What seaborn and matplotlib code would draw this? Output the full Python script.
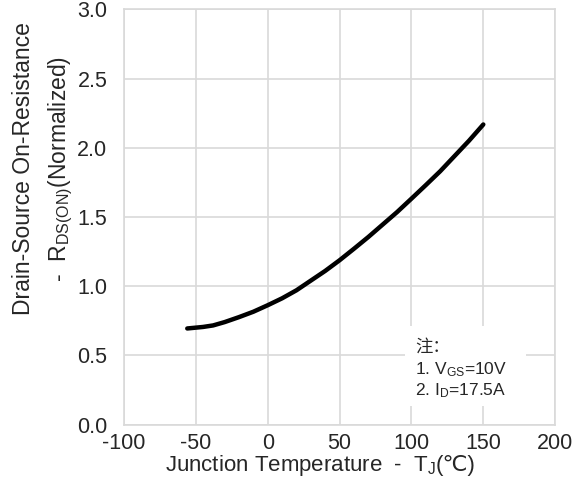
import numpy as np
import pandas as pd
import seaborn as sns
import matplotlib
matplotlib.use("Agg")
import matplotlib.pyplot as plt
from matplotlib.offsetbox import TextArea, HPacker, AnchoredOffsetbox

# curve
temp_c = [-56, -45, -38, -30, -20, -10, 0, 10, 20, 30, 40, 50, 60, 70, 80, 90,
          100, 110, 120, 130, 140, 150]
rds_norm = [0.694, 0.705, 0.716, 0.740, 0.776, 0.815, 0.862, 0.912, 0.970, 1.040,
            1.110, 1.187, 1.270, 1.355, 1.445, 1.535, 1.632, 1.730, 1.830, 1.940,
            2.050, 2.168]

x_ticks = [-100, -50, 0, 50, 100, 150, 200]
y_ticks = [0.0, 0.5, 1.0, 1.5, 2.0, 2.5, 3.0]

note_title = "注："
note_lines = ["1. $\\mathregular{V_{GS}}$=10V", "2. $\\mathregular{I_D}$=17.5A"]

sns.set_style("white")
plt.rcParams['font.family'] = ['Liberation Sans', 'DejaVu Sans']
plt.rcParams['mathtext.fontset'] = 'custom'
plt.rcParams['mathtext.rm'] = 'Liberation Sans'

df = pd.DataFrame({"T": temp_c, "R": rds_norm})

fig = plt.figure(figsize=(5.85, 4.91), dpi=100)
ax = fig.add_axes([0.212, 0.1354, 0.737, 0.8456])

sns.lineplot(data=df, x="T", y="R", ax=ax, color="black", linewidth=3.2)

ax.set_xlim(-100, 200)
ax.set_ylim(0, 3.0)
ax.set_xticks(x_ticks)
ax.set_yticks(y_ticks)
ax.set_xticklabels([str(t) for t in x_ticks], fontsize=15.5)
ax.set_yticklabels([f"{t:.1f}" for t in y_ticks], fontsize=15.5)
ax.tick_params(axis="x", length=0, pad=6)
ax.tick_params(axis="y", length=0, pad=12)
ax.grid(True, color="#d9d9d9", linewidth=1.2)
for s in ax.spines.values():
    s.set_color("#d9d9d9")
    s.set_linewidth(1.2)
ax.set_xlabel("")
ax.set_ylabel("")

# x label built from pieces so the ℃ sign can fall back to DejaVu
lab1 = TextArea("Junction Temperature  -  $\\mathregular{T_J}$",
                textprops=dict(fontsize=16, family="Liberation Sans"))
lab2 = TextArea("(℃)", textprops=dict(fontsize=16, family=["Liberation Sans", "DejaVu Sans"]))
xlab = HPacker(children=[lab1, lab2], align="baseline", pad=0, sep=0)
ax.add_artist(AnchoredOffsetbox(loc="upper center", child=xlab, pad=0, borderpad=0,
                                frameon=False, bbox_to_anchor=(0.455, -0.068),
                                bbox_transform=ax.transAxes))

fig.text(0.075, 0.656, "Drain-Source On-Resistance\n-  $\\mathregular{R_{DS(ON)}}$(Normalized)",
         rotation=90, ha="center", va="center", multialignment="center",
         fontsize=16.5, linespacing=1.6)

# note box (white patch over the grid)
ax.add_patch(plt.Rectangle((95.6, 0.134), 84.2, 0.577, facecolor="white",
                           edgecolor="none", zorder=3))
ax.text(102.6, 0.523, note_title, fontsize=12.5, family=['Noto Sans CJK SC', 'DejaVu Sans'],
        va="baseline", zorder=4)
ax.text(102.6, 0.364, note_lines[0], fontsize=12.5, va="baseline", zorder=4)
ax.text(102.6, 0.213, note_lines[1], fontsize=12.5, va="baseline", zorder=4)

fig.savefig("out.png", dpi=100)
